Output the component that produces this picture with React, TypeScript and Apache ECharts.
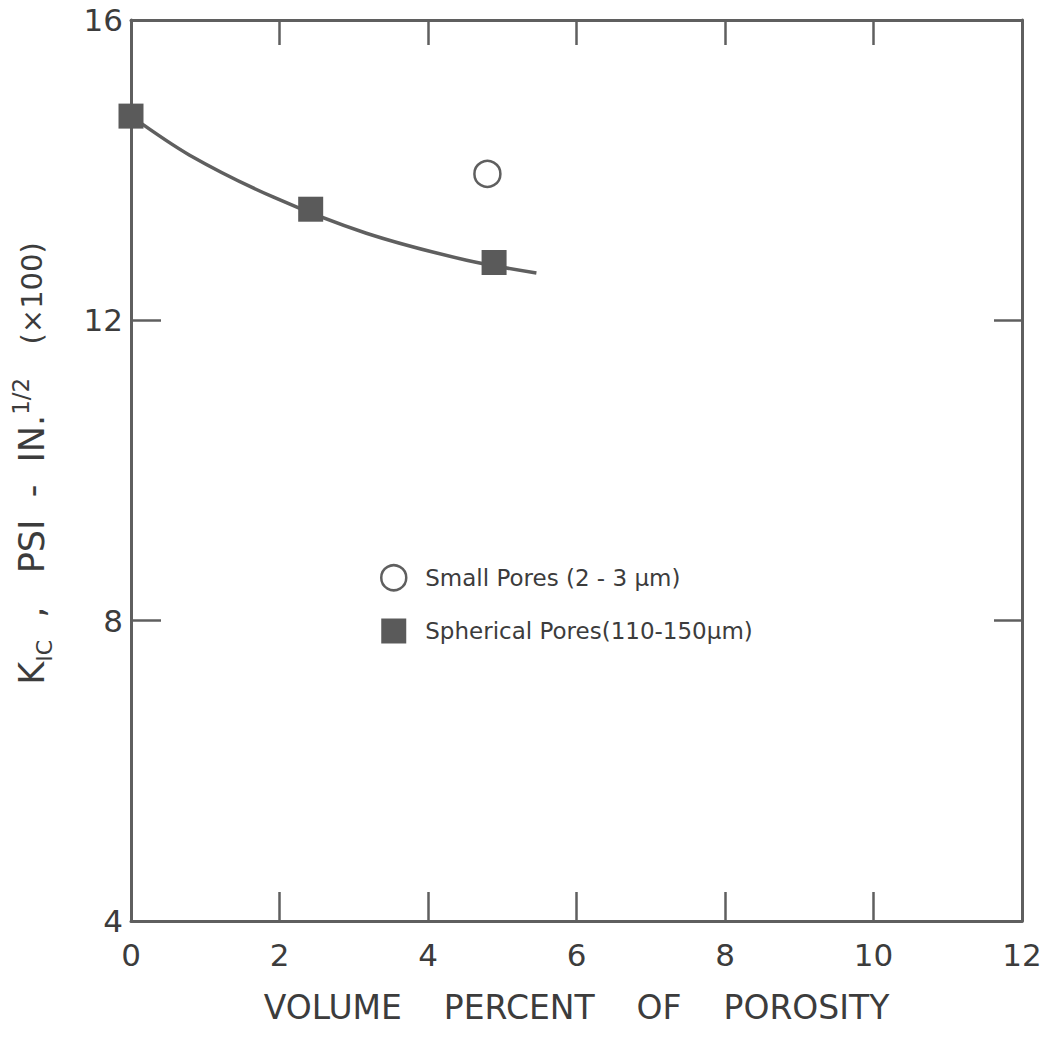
import React, { useEffect, useRef } from "react";
import * as echarts from "echarts";

const xTicks = [0, 2, 4, 6, 8, 10, 12];
const yTicks = [4, 8, 12, 16];

const smallPoresX = [4.8];
const smallPoresY = [13.95];

const sphericalX = [0, 2.42, 4.89];
const sphericalY = [14.72, 13.48, 12.77];

// fitted curve
const curveX = [0, 0.79, 1.92, 3.17, 4.52, 5.46];
const curveY = [14.72, 14.2, 13.64, 13.16, 12.8, 12.63];

const smallName = "Small Pores (2 - 3 μm)";
const sphName = "Spherical Pores(110-150μm)";

const FONT = "DejaVu Sans";
const INK = "#3c3c3c";
const LINE = "#5f5f5f";

export default function App() {
  const ref = useRef<HTMLDivElement>(null);
  useEffect(() => {
    if (!ref.current) return;
    const chart = echarts.init(ref.current, undefined, { renderer: "svg" });
    const axisCommon = {
      type: "value" as const,
      splitLine: { show: false },
      axisLine: { show: true, onZero: false, lineStyle: { color: LINE, width: 3 } },
    };
    chart.setOption({
      animation: false,
      backgroundColor: "#fff",
      grid: { left: 131, right: 23, top: 20, bottom: 117, containLabel: false },
      legend: {
        orient: "vertical",
        left: 375,
        top: 559,
        itemWidth: 25,
        itemHeight: 25,
        itemGap: 27,
        textStyle: { fontFamily: FONT, fontSize: 23, color: INK, padding: [0, 0, 0, 14] },
        data: [
          { name: smallName, icon: "circle", itemStyle: { color: "#fff", borderColor: LINE, borderWidth: 2.5 } },
          { name: sphName, icon: "rect", itemStyle: { color: "#5a5a5a", borderWidth: 0 } },
        ],
      },
      xAxis: [
        {
          ...axisCommon,
          position: "bottom",
          min: xTicks[0],
          max: xTicks[xTicks.length - 1],
          interval: 2,
          axisTick: { show: true, inside: true, length: 29, lineStyle: { color: LINE, width: 2.5 } },
          axisLabel: { margin: 18, fontFamily: FONT, fontSize: 31, color: INK },
          name: "VOLUME    PERCENT    OF    POROSITY",
          nameLocation: "middle",
          nameGap: 70,
          nameTextStyle: { fontFamily: FONT, fontSize: 33, color: INK },
        },
        {
          ...axisCommon,
          position: "top",
          min: xTicks[0],
          max: xTicks[xTicks.length - 1],
          interval: 2,
          axisTick: { show: true, inside: true, length: 25, lineStyle: { color: LINE, width: 2.5 } },
          axisLabel: { show: false },
        },
      ],
      yAxis: [
        {
          ...axisCommon,
          position: "left",
          min: yTicks[0],
          max: yTicks[yTicks.length - 1],
          interval: 4,
          axisTick: { show: true, inside: true, length: 30, lineStyle: { color: LINE, width: 2.5 } },
          axisLabel: { margin: 8, fontFamily: FONT, fontSize: 31, color: INK },
          name: "K{sub|IC}  ,   PSI  -  IN.{sup|1/2}   {sm|(×100)}",
          nameLocation: "middle",
          nameRotate: 90,
          nameGap: 76,
          nameTextStyle: {
            fontFamily: FONT,
            fontSize: 35,
            color: INK,
            lineHeight: 46,
            padding: [0, 0, 0, 14],
            rich: {
              sub: { fontFamily: FONT, fontSize: 22, color: INK, verticalAlign: "bottom", lineHeight: 46 },
              sup: { fontFamily: FONT, fontSize: 23, color: INK, verticalAlign: "top", lineHeight: 46 },
              sm: { fontFamily: FONT, fontSize: 29, color: INK, lineHeight: 46 },
            },
          },
        },
        {
          ...axisCommon,
          position: "right",
          min: yTicks[0],
          max: yTicks[yTicks.length - 1],
          interval: 4,
          axisTick: { show: true, inside: true, length: 28, lineStyle: { color: LINE, width: 2.5 } },
          axisLabel: { show: false },
        },
      ],
      series: [
        {
          name: "curve",
          type: "line",
          smooth: 0.3,
          symbol: "none",
          clip: false,
          lineStyle: { color: LINE, width: 3.5 },
          data: curveX.map((x, i) => [x, curveY[i]]),
          z: 2,
        },
        {
          name: sphName,
          type: "scatter",
          symbol: "rect",
          symbolSize: 25,
          clip: false,
          itemStyle: { color: "#5a5a5a", opacity: 1 },
          data: sphericalX.map((x, i) => [x, sphericalY[i]]),
          z: 3,
        },
        {
          name: smallName,
          type: "scatter",
          symbol: "circle",
          symbolSize: 26,
          clip: false,
          itemStyle: { color: "#fff", borderColor: LINE, borderWidth: 2.5, opacity: 1 },
          data: smallPoresX.map((x, i) => [x, smallPoresY[i]]),
          z: 3,
        },
      ],
    });
    return () => chart.dispose();
  }, []);
  return <div ref={ref} style={{ width: 1045, height: 1038, position: "absolute", left: 0, top: 0 }} />;
}
